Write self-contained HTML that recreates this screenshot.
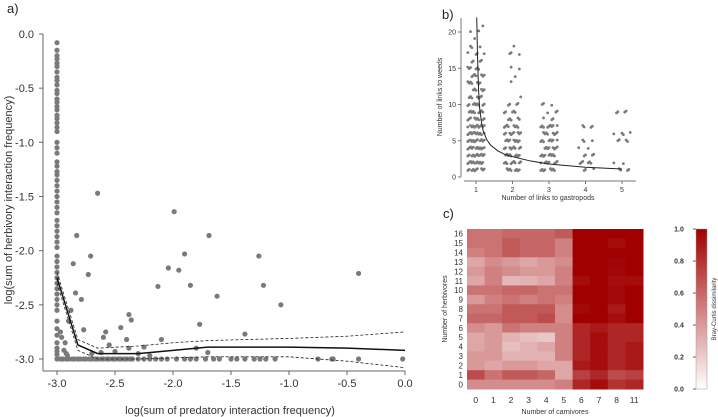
<!DOCTYPE html>
<html><head><meta charset="utf-8"><style>
body{margin:0;background:#fff;}
svg{display:block;font-family:"Liberation Sans",sans-serif;}
</style></head><body>
<svg id="fig" width="718" height="417" viewBox="0 0 718 417"></svg>
<script>
// ---------- Panel a data ----------
const aColY=[-0.08,-0.15,-0.2,-0.23,-0.27,-0.3,-0.35,-0.4,-0.43,-0.47,-0.52,-0.55,-0.6,-0.63,-0.67,-0.7,-0.75,-0.78,-0.82,-0.86,-0.9,-1.0,-1.05,-1.1,-1.18,-1.22,-1.27,-1.3,-1.35,-1.4,-1.45,-1.5,-1.55,-1.6,-1.65,-1.72,-1.77,-1.82,-1.87,-1.92,-1.97,-2.05,-2.1,-2.15,-2.2,-2.25,-2.3,-2.35,-2.4,-2.45,-2.5,-2.55,-2.65,-2.72,-2.78,-2.85,-2.9,-2.93,-2.96,-3.0];
const aPtX=[-2.65,-2.83,-2.71,-2.73,-2.86,-2.84,-2.79,-2.88,-2.9,-2.77,-2.6,-2.58,-2.45,-2.4,-2.38,-2.36,-2.1,-2.13,-2.04,-1.99,-1.95,-1.9,-1.85,-1.69,-1.62,-1.77,-1.38,-1.26,-1.22,-1.07,-0.4,-2.93,-2.97,-2.55,-2.5,-2.25,-1.8,-1.7,-2.38,-2.92,-2.7,-2.2,-2.96,-2.94,-2.91,-2.62,-2.3];
const aPtY=[-1.47,-1.86,-2.05,-2.22,-2.12,-2.39,-2.45,-2.55,-2.65,-2.73,-2.8,-2.75,-2.71,-2.82,-2.59,-2.64,-2.82,-2.33,-2.16,-1.64,-2.18,-2.03,-2.32,-1.86,-2.42,-2.68,-2.77,-2.05,-2.32,-2.5,-2.21,-2.85,-2.75,-2.87,-2.93,-2.89,-2.9,-2.94,-2.9,-2.95,-2.95,-2.97,-2.8,-2.92,-2.97,-2.94,-2.95];
const aBottomX=[-2.97,-2.95,-2.92,-2.9,-2.87,-2.85,-2.82,-2.8,-2.77,-2.75,-2.72,-2.7,-2.67,-2.65,-2.62,-2.6,-2.57,-2.55,-2.52,-2.5,-2.47,-2.45,-2.42,-2.4,-2.37,-2.35,-2.3,-2.25,-2.2,-2.15,-2.1,-2.05,-1.97,-1.9,-1.85,-1.8,-1.72,-1.65,-1.6,-1.5,-1.45,-1.38,-1.3,-1.25,-1.2,-1.12,-0.75,-0.63,-0.62,-0.4,-0.02];
const aFitX=[-3,-2.82,-2.65,-2.3,-2.0,-1.7,-1.0,-0.5,0];
const aFitY=[-2.25,-2.87,-2.95,-2.95,-2.92,-2.89,-2.89,-2.9,-2.92];
const aUpY=[-2.2,-2.82,-2.9,-2.88,-2.85,-2.83,-2.81,-2.79,-2.75];
const aLoY=[-2.3,-2.92,-3.0,-3.0,-2.99,-2.98,-2.98,-3.02,-3.08];
const aXTicks=["-3.0","-2.5","-2.0","-1.5","-1.0","-0.5","0.0"];
const aYTicks=["0.0","-0.5","-1.0","-1.5","-2.0","-2.5","-3.0"];
// ---------- Panel b data ----------
const bGroups=[1,2,3,4,5];
const bCounts=[
 {1:10,2:12,3:12,4:12,5:12,6:12,7:12,8:9,9:9,10:9,11:7,12:6,13:7,14:7,15:6,16:4,17:4,18:3,19:1,20:2,21:1},
 {1:8,2:9,3:9,4:9,5:9,6:9,7:8,8:5,9:5,10:4,11:1,13:1,14:1,15:2,17:3,18:1},
 {1:8,2:8,3:9,4:8,5:8,6:8,7:9,8:3,9:3,10:3},
 {1:3,2:6,3:4,4:2,5:3,7:4},
 {1:4,2:2,5:4,6:4,9:4}];
const bCurveX=[1.02,1.04,1.07,1.1,1.15,1.2,1.3,1.4,1.6,1.8,2,2.5,3,4,5];
const bCurveY=[22,17,12,9.5,7.5,6.3,5.1,4.4,3.6,3.1,2.8,2.2,1.8,1.35,1.1];
const bYTicks=["0","5","10","15","20"];
// ---------- Panel c data ----------
const cCols=["0","1","2","3","4","5","6","7","8","11"];
const cRows=["16","15","14","13","12","11","10","9","8","7","6","5","4","3","2","1","0"];
const cVals=[
[.55,.55,.6,.6,.6,.65,1,1,1,1],
[.55,.55,.65,.6,.6,.5,1,1,.95,1],
[.5,.55,.65,.6,.6,.5,1,1,1,1],
[.35,.45,.4,.35,.4,.45,1,1,.98,1],
[.4,.5,.45,.4,.4,.5,1,1,.97,1],
[.35,.5,.28,.3,.35,.5,.95,1,.95,.95],
[.55,.55,.6,.6,.55,.55,1,1,.97,1],
[.4,.5,.55,.5,.55,.5,1,1,.97,1],
[.55,.55,.65,.65,.65,.45,.97,1,.9,1],
[.6,.6,.65,.65,.7,.45,1,1,.95,1],
[.45,.4,.55,.5,.5,.5,.85,.9,.85,.85],
[.35,.4,.3,.25,.22,.5,.85,.95,.85,.85],
[.35,.4,.25,.3,.35,.5,.85,.95,.85,.9],
[.4,.4,.3,.3,.3,.5,.85,.95,.85,.9],
[.4,.35,.4,.4,.35,.35,.9,.95,.85,.9],
[.7,.55,.65,.65,.6,.35,.75,.85,.7,.75],
[.45,.45,.45,.45,.45,.5,.85,.95,.8,.85]];
const cBarTicks=["0.0","0.2","0.4","0.6","0.8","1.0"];

const NS="http://www.w3.org/2000/svg";
const svg=document.getElementById('fig');
function mk(tag,attrs,parent,txt){const e=document.createElementNS(NS,tag);for(const k in attrs)e.setAttribute(k,attrs[k]);if(txt!==undefined)e.textContent=txt;(parent||svg).appendChild(e);return e;}

// ===== Panel a =====
const ax=v=>57+(v+3)/3*348, ay=v=>34+(-v)/3*325;
const ga=mk('g',{});
let t=mk('text',{x:7,y:13,'font-size':13,fill:'#222'},ga,'a)');
mk('line',{x1:43,y1:34,x2:43,y2:371,stroke:'#666'},ga);
mk('line',{x1:43,y1:371,x2:405,y2:371,stroke:'#666'},ga);
aXTicks.forEach(s=>{const x=ax(parseFloat(s));mk('line',{x1:x,y1:371,x2:x,y2:375,stroke:'#666'},ga);
 const e=mk('text',{x:x,y:387,'font-size':11,'text-anchor':'middle',fill:'#333'},ga,s);});
aYTicks.forEach(s=>{const y=ay(parseFloat(s));mk('line',{x1:39,y1:y,x2:43,y2:y,stroke:'#666'},ga);
 const e=mk('text',{x:34,y:y+4,'font-size':11,'text-anchor':'end',fill:'#333'},ga,s);});
t=mk('text',{x:230,y:414,'font-size':11,'text-anchor':'middle',fill:'#333'},ga,'log(sum of predatory interaction frequency)');
t=mk('text',{x:0,y:0,'font-size':11,'text-anchor':'middle',fill:'#333',transform:'translate(12,200) rotate(-90)'},ga,'log(sum of herbivory interaction frequency)');
const pa=mk('g',{fill:'#7a7a7a'},ga);
aColY.forEach(v=>{const c=mk('circle',{cx:ax(-3),cy:ay(v),r:2.6},pa);});
aBottomX.forEach(v=>{const c=mk('circle',{cx:ax(v),cy:ay(-3),r:2.6},pa);});
aPtX.forEach((v,i)=>{const c=mk('circle',{cx:ax(v),cy:ay(aPtY[i]),r:2.6},pa);});
const pl=(xs,ys)=>xs.map((x,i)=>ax(x)+','+ay(ys[i])).join(' ');
t=mk('polyline',{points:pl(aFitX,aFitY),fill:'none',stroke:'#111','stroke-width':1.5},ga);
t=mk('polyline',{points:pl(aFitX,aUpY),fill:'none',stroke:'#222','stroke-width':0.8,'stroke-dasharray':'3,2'},ga);
t=mk('polyline',{points:pl(aFitX,aLoY),fill:'none',stroke:'#222','stroke-width':0.8,'stroke-dasharray':'3,2'},ga);

// ===== Panel b =====
const bx=v=>476+(v-1)/4*146, by=v=>177-v/20*145;
const gb=mk('g',{});
t=mk('text',{x:442,y:19,'font-size':13,fill:'#222'},gb,'b)');
mk('line',{x1:461,y1:18,x2:461,y2:177,stroke:'#777'},gb);
mk('line',{x1:464,y1:181,x2:636,y2:181,stroke:'#777'},gb);
bGroups.forEach(g=>{const x=bx(g);mk('line',{x1:x,y1:181,x2:x,y2:184,stroke:'#777'},gb);
 const e=mk('text',{x:x,y:192,'font-size':7,'text-anchor':'middle',fill:'#333'},gb,String(g));});
bYTicks.forEach(s=>{const y=by(parseFloat(s));mk('line',{x1:458,y1:y,x2:461,y2:y,stroke:'#777'},gb);
 const e=mk('text',{x:456,y:y+2.5,'font-size':7,'text-anchor':'end',fill:'#333'},gb,s);});
t=mk('text',{x:548,y:200,'font-size':7,'text-anchor':'middle',fill:'#333'},gb,'Number of links to gastropods');
t=mk('text',{x:0,y:0,'font-size':7,'text-anchor':'middle',fill:'#333',transform:'translate(442,97) rotate(-90)'},gb,'Number of links to weeds');
const pb=mk('g',{fill:'#7a7a7a'},gb);
bGroups.forEach((g,gi)=>{const cnt=bCounts[gi];Object.keys(cnt).forEach(k=>{const yv=+k;for(let i=0;i<cnt[k];i++){
 const j=((i*7+yv*3+gi*5)%13)/12-0.5; const jy=(((i*5+yv)%7)/6-0.5)*0.3;
 const c=mk('circle',{cx:bx(g+j*0.45),cy:by(yv+jy),r:1.4},pb);}});});
t=mk('polyline',{points:bCurveX.map((x,i)=>bx(x)+','+by(bCurveY[i])).join(' '),fill:'none',stroke:'#222','stroke-width':1},gb);

// ===== Panel c =====
const gc=mk('g',{});
t=mk('text',{x:443,y:218,'font-size':13,fill:'#222'},gc,'c)');
const hx0=467,hx1=643,hy0=229,hy1=389,cw=(hx1-hx0)/cCols.length,rh=(hy1-hy0)/cRows.length;
const col=v=>{const r=Math.round(255+(160-255)*v),g=Math.round(255*(1-v)),b=Math.round(255*(1-v));return `rgb(${r},${g},${b})`;};
cRows.forEach((rn,ri)=>{cCols.forEach((cn,ci)=>{const c=mk('rect',{x:hx0+ci*cw,y:hy0+ri*rh,width:cw+0.5,height:rh+0.5,fill:col(cVals[ri][ci])},gc);});
 const e=mk('text',{x:463,y:hy0+ri*rh+rh/2+3,'font-size':8,'text-anchor':'end',fill:'#333'},gc,rn);});
cCols.forEach((cn,ci)=>{const e=mk('text',{x:hx0+ci*cw+cw/2,y:403,'font-size':8.5,'text-anchor':'middle',fill:'#333'},gc,cn);});
t=mk('text',{x:555,y:414,'font-size':7,'text-anchor':'middle',fill:'#333'},gc,'Number of carnivores');
t=mk('text',{x:0,y:0,'font-size':7,'text-anchor':'middle',fill:'#333',transform:'translate(447,309) rotate(-90)'},gc,'Number of herbivores');
const defs=mk('defs',{});const lg=mk('linearGradient',{id:'cb',x1:0,y1:1,x2:0,y2:0},defs);
mk('stop',{offset:0,'stop-color':col(0)},lg);mk('stop',{offset:0.5,'stop-color':col(0.5)},lg);mk('stop',{offset:1,'stop-color':col(1)},lg);
t=mk('rect',{x:696,y:229,width:11,height:160,fill:'url(#cb)',stroke:'#999','stroke-width':0.5},gc);
cBarTicks.forEach(s=>{const y=389-parseFloat(s)*160;mk('line',{x1:693,y1:y,x2:696,y2:y,stroke:'#666'},gc);
 const e=mk('text',{x:679,y:y+2.5,'font-size':7,'font-weight':'bold','text-anchor':'middle',fill:'#333'},gc,s);});
t=mk('text',{x:0,y:0,'font-size':6,'text-anchor':'middle',fill:'#333',transform:'translate(716,309) rotate(-90)'},gc,'Bray-Curtis dissimilarity');
</script>
</body></html>
